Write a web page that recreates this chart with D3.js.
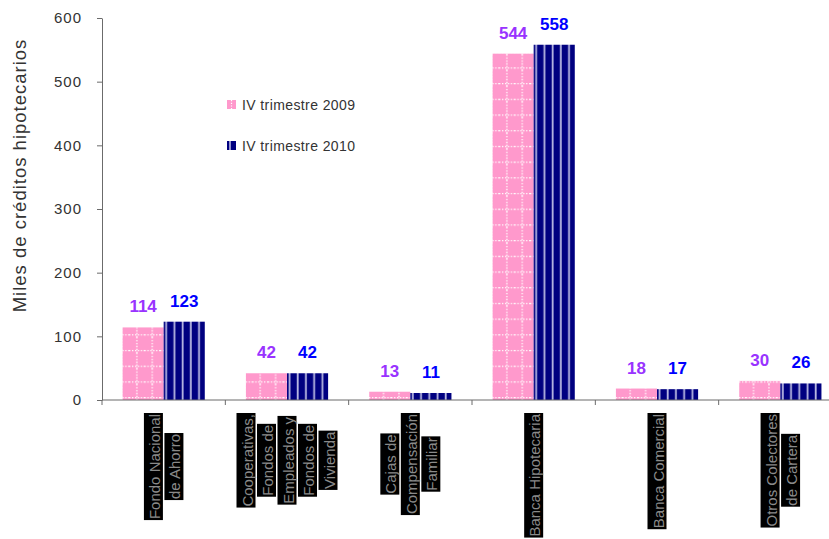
<!DOCTYPE html>
<html>
<head>
<meta charset="utf-8">
<title>Créditos hipotecarios</title>
<style>
  body { margin: 0; background: #fff; }
  text { font-family: Arial, "Liberation Sans", sans-serif; }
</style>
</head>
<body>
<svg id="chart" width="829" height="539"></svg>
<script src="https://cdn.jsdelivr.net/npm/d3@7/dist/d3.min.js"></script>
<script>
    // data
    const categories = [
        ["Fondo Nacional", "de Ahorro"],
        ["Cooperativas,", "Fondos de", "Empleados y", "Fondos de", "Vivienda"],
        ["Cajas de", "Compensación", "Familiar"],
        ["Banca Hipotecaria"],
        ["Banca Comercial"],
        ["Otros Colectores", "de Cartera"]
    ];
    const seriesNames = ["IV trimestre 2009", "IV trimestre 2010"];
    const values2009 = [114, 42, 13, 544, 18, 30];
    const values2010 = [123, 42, 11, 558, 17, 26];
    const yTicks = [0, 100, 200, 300, 400, 500, 600];
    const yTitle = "Miles de créditos hipotecarios";

    const svg = d3.select("#chart");
    const axisColor = "#6b6b6b";

    const x0 = d3.scaleBand()
        .domain(d3.range(categories.length))
        .range([102, 842])
        .paddingInner(0).paddingOuter(0);
    const x1 = d3.scaleBand()
        .domain([0, 1])
        .range([0, x0.bandwidth()])
        .paddingInner(0).paddingOuter(0.5);
    const y = d3.scaleLinear().domain([0, 600]).range([400, 18]);

    //#region patterns
    // tile sizes divide the band step so every bar gets the same phase
    const step = x0.step();
    const pinkW = step / 8, navyW = step / 15;
    const defs = svg.append("defs");
    const pink = defs.append("pattern")
        .attr("id", "pinkGrid")
        .attr("patternUnits", "userSpaceOnUse")
        .attr("x", x0(0) + x1(0) + 14.3 - pinkW / 2).attr("y", 400)
        .attr("width", pinkW).attr("height", 15.7);
    pink.append("rect").attr("width", pinkW).attr("height", 15.7).attr("fill", "#ff99cc");
    pink.append("line").attr("x1", 0).attr("x2", pinkW).attr("y1", 13.3).attr("y2", 13.3)
        .attr("stroke", "#fff").attr("stroke-width", 1.3).attr("stroke-dasharray", "1.3,1.6");
    pink.append("line").attr("x1", pinkW / 2).attr("x2", pinkW / 2).attr("y1", 0).attr("y2", 15.7)
        .attr("stroke", "#fff").attr("stroke-width", 1.3).attr("stroke-dasharray", "1.3,1.6");

    const navy = defs.append("pattern")
        .attr("id", "navyStripe")
        .attr("patternUnits", "userSpaceOnUse")
        .attr("x", x0(0) + x1(1)).attr("y", 0)
        .attr("width", navyW).attr("height", 600);
    navy.append("rect").attr("width", navyW).attr("height", 600).attr("fill", "#000080");
    navy.append("rect").attr("x", 1.6).attr("width", 1.8).attr("height", 600).attr("fill", "#b8b8e2");
    //#endregion patterns

    // bars
    const fills = ["url(#pinkGrid)", "url(#navyStripe)"];
    const labelColors = ["#9933ff", "#0000ff"];
    const series = [values2009, values2010];

    series.forEach((vals, s) => {
        svg.append("g").selectAll("rect")
            .data(vals)
            .join("rect")
            .attr("x", (d, i) => x0(i) + x1(s))
            .attr("y", d => y(d))
            .attr("width", x1.bandwidth())
            .attr("height", d => y(0) - y(d))
            .attr("fill", fills[s]);

        svg.append("g").selectAll("text")
            .data(vals)
            .join("text")
            .attr("x", (d, i) => x0(i) + x1(s) + x1.bandwidth() / 2)
            .attr("y", d => y(d) - 15)
            .attr("text-anchor", "middle")
            .attr("font-size", 17)
            .attr("font-weight", "bold")
            .attr("fill", labelColors[s])
            .text(d => d);
    });

    // y axis
    const gy = svg.append("g").attr("transform", "translate(102,0)")
        .call(d3.axisLeft(y).tickValues(yTicks).tickSize(5).tickPadding(15).tickSizeOuter(0));
    gy.select(".domain").attr("stroke", axisColor);
    gy.selectAll(".tick line").attr("stroke", axisColor);
    gy.selectAll(".tick text")
        .attr("font-size", 15)
        .attr("letter-spacing", 1)
        .attr("fill", "#333")
        .attr("font-family", "Arial, 'Liberation Sans', sans-serif");

    svg.append("text")
        .attr("transform", "translate(26,175.5) rotate(-90)")
        .attr("text-anchor", "middle")
        .attr("font-size", 18.5)
        .attr("letter-spacing", 1)
        .attr("fill", "#333")
        .text(yTitle);

    // x axis
    svg.append("line")
        .attr("x1", 102).attr("x2", 829)
        .attr("y1", y(0)).attr("y2", y(0))
        .attr("stroke", axisColor);
    svg.append("g").selectAll("line")
        .data(d3.range(categories.length))
        .join("line")
        .attr("x1", d => x0(d)).attr("x2", d => x0(d))
        .attr("y1", y(0)).attr("y2", y(0) + 5)
        .attr("stroke", axisColor);

    // category labels: rotated lines on black boxes
    categories.forEach((lines, i) => {
        const cx = x0(i) + x0.bandwidth() / 2;
        const g = svg.append("g");
        const texts = lines.map((t, j) => g.append("text")
            .attr("font-size", 15)
            .attr("fill", "#8a8a8a")
            .attr("text-anchor", "middle")
            .attr("dominant-baseline", "central")
            .text(t));
        const lens = texts.map(t => t.node().getComputedTextLength() + 2);
        const maxLen = d3.max(lens);
        const cy = 413 + maxLen / 2;
        g.attr("transform", `translate(${cx},${cy}) rotate(-90)`);
        texts.forEach((t, j) => {
            const ly = (j - (lines.length - 1) / 2) * 20.5;
            g.insert("rect", "text")
                .attr("x", -lens[j] / 2)
                .attr("y", ly - 9.5)
                .attr("width", lens[j])
                .attr("height", 19)
                .attr("fill", "#000");
            t.attr("x", 0).attr("y", ly + 1);
        });
    });

    // legend
    const legendY = [100, 141];
    const legend = svg.append("g");
    seriesNames.forEach((name, s) => {
        legend.append("rect")
            .attr("x", 227).attr("y", legendY[s])
            .attr("width", 9).attr("height", 9)
            .attr("fill", s === 0 ? "#ff99cc" : "#000080");
        legend.append("line")
            .attr("x1", s === 0 ? 231.5 : 230).attr("x2", s === 0 ? 231.5 : 230)
            .attr("y1", legendY[s]).attr("y2", legendY[s] + 9)
            .attr("stroke", s === 0 ? "#fff" : "#b8b8e2")
            .attr("stroke-width", s === 0 ? 1.2 : 1.6)
            .attr("stroke-dasharray", s === 0 ? "1.2,1.5" : null);
        legend.append("text")
            .attr("x", 242).attr("y", legendY[s] + 10)
            .attr("font-size", 14)
            .attr("letter-spacing", 0.4)
            .attr("fill", "#333")
            .text(name);
    });
</script>
</body>
</html>
